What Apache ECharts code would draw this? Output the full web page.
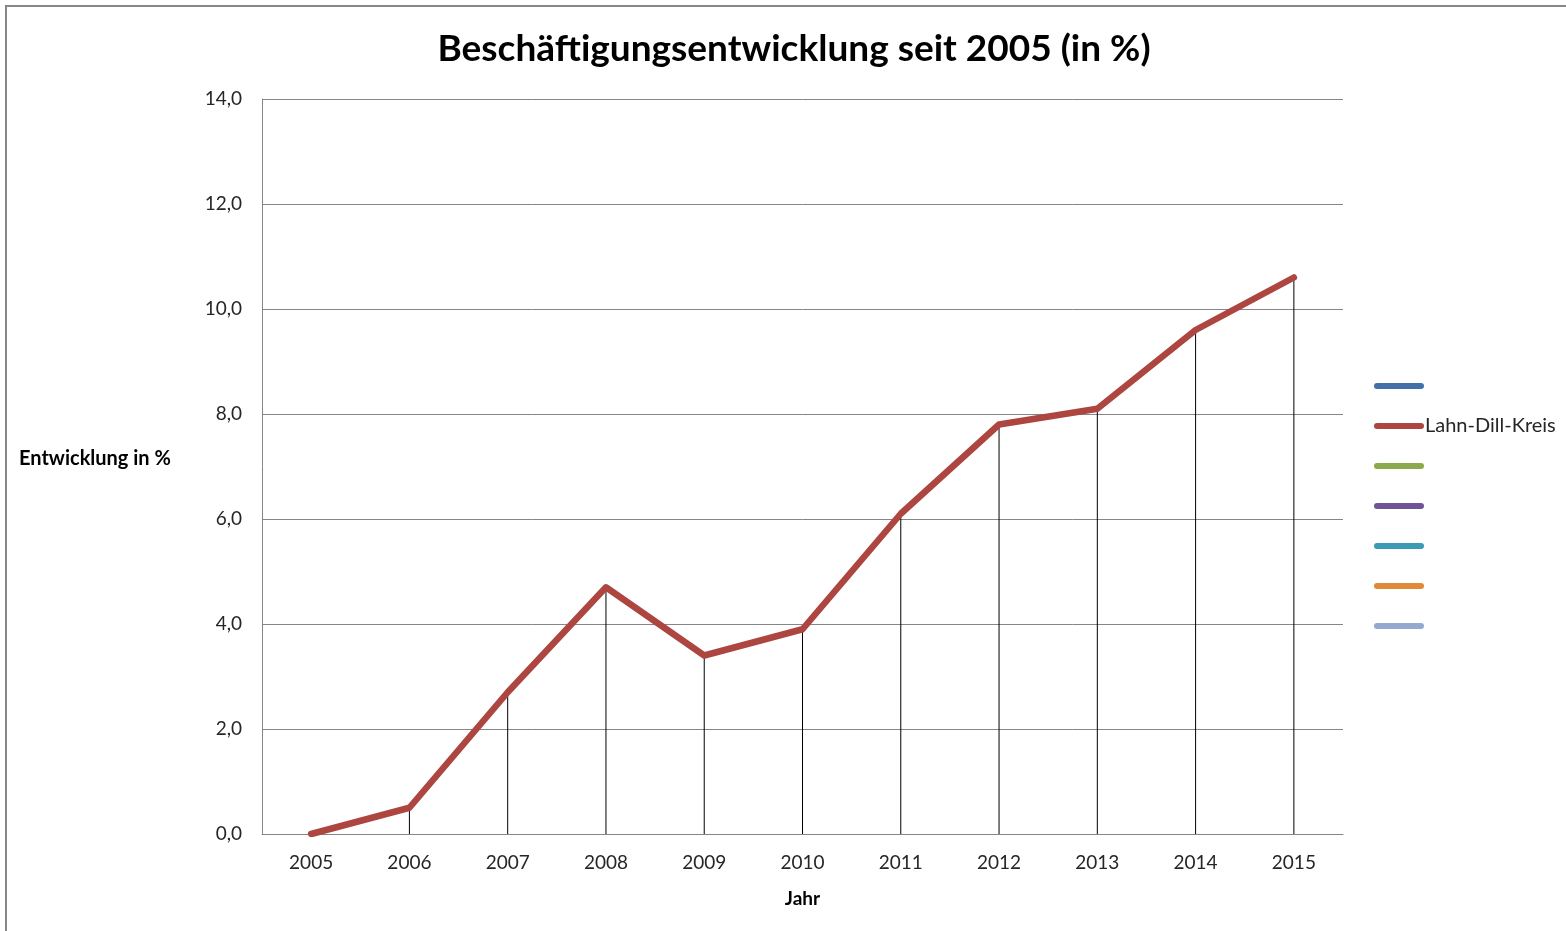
<!DOCTYPE html>
<html>
<head>
<meta charset="utf-8">
<script src="https://cdn.jsdelivr.net/npm/echarts@6/dist/echarts.min.js"></script>
<style>
html,body{margin:0;padding:0;background:#fff;}
#c{width:1566px;height:931px;}
</style>
</head>
<body>
<div id="c"></div>
<script>
const years = ['2005','2006','2007','2008','2009','2010','2011','2012','2013','2014','2015'];
const lahnDill = [0.0, 0.5, 2.7, 4.7, 3.4, 3.9, 6.1, 7.8, 8.1, 9.6, 10.6];
const seriesName = 'Lahn-Dill-Kreis';
const yTicks = {min: 0, max: 14, interval: 2};
const emptyNames = ['s1', 's3', 's4', 's5', 's6', 's7'];
const legendColors = ['#4270AB', '#AD4540', '#8CAA4B', '#6F5596', '#3C9BB4', '#E08A38', '#93A9CF'];
const legendOrder = ['s1', seriesName, 's3', 's4', 's5', 's6', 's7'];

const FONT = 'Lato, "Open Sans", sans-serif';
const pill = 'path://M3,0 H47 A3,3 0 0 1 47,6 H3 A3,3 0 0 1 3,0 Z';

const chart = echarts.init(document.getElementById('c'));
const series = [
  {
    name: '__drop',
    type: 'bar',
    data: lahnDill,
    barWidth: 1,
    itemStyle: {color: '#000'},
    silent: true,
    z: 1
  },
  {
    name: seriesName,
    type: 'line',
    data: lahnDill,
    symbol: 'none',
    lineStyle: {width: 6.5, color: legendColors[1], cap: 'round', join: 'round'},
    itemStyle: {color: legendColors[1]},
    z: 3
  }
];
emptyNames.forEach(n => {
  const idx = legendOrder.indexOf(n);
  series.push({name: n, type: 'line', data: [], itemStyle: {color: legendColors[idx]}, lineStyle: {color: legendColors[idx]}});
});

chart.setOption({
  animation: false,
  textStyle: {fontFamily: FONT},
  title: {
    text: 'Beschäftigungsentwicklung seit 2005 (in %)',
    left: 789, top: 26, textAlign: 'center',
    textStyle: {fontSize: 37, fontWeight: 'bold', color: '#000', fontFamily: FONT}
  },
  grid: {left: 262, right: 223, top: 99, bottom: 97, containLabel: false},
  legend: {
    orient: 'vertical',
    left: 1369, top: 371,
    itemWidth: 50, itemHeight: 7, itemGap: 20,
    data: legendOrder.map(n => ({name: n, icon: pill})),
    formatter: n => (n === seriesName ? n : ' '),
    textStyle: {fontSize: 20, color: '#262626', lineHeight: 20, height: 20, padding: [0, 0, 0, -4]},
    selectedMode: false
  },
  xAxis: {
    type: 'category',
    data: years,
    boundaryGap: true,
    axisLine: {lineStyle: {color: '#868686', width: 1}},
    axisTick: {show: false},
    axisLabel: {fontSize: 19, color: '#262626', margin: 19},
    name: 'Jahr',
    nameLocation: 'middle',
    nameGap: 55,
    nameTextStyle: {fontSize: 19, fontWeight: 'bold', color: '#000'}
  },
  yAxis: {
    type: 'value',
    min: yTicks.min, max: yTicks.max, interval: yTicks.interval,
    axisLine: {show: true, lineStyle: {color: '#868686', width: 1}},
    axisTick: {show: false},
    splitLine: {lineStyle: {color: '#868686', width: 1}},
    axisLabel: {fontSize: 19, color: '#262626', margin: 20, formatter: v => v.toFixed(1).replace('.', ',')}
  },
  graphic: [
    {type: 'rect', shape: {x: 6, y: 6, width: 1700, height: 1000}, style: {fill: null, stroke: '#868686', lineWidth: 2}, silent: true, z: -10},
    {type: 'text', left: 19, top: 449, style: {text: 'Entwicklung in %', fontSize: 20, fontWeight: 'bold', fill: '#000', fontFamily: FONT}}
  ],
  series: series
});
</script>
</body>
</html>
